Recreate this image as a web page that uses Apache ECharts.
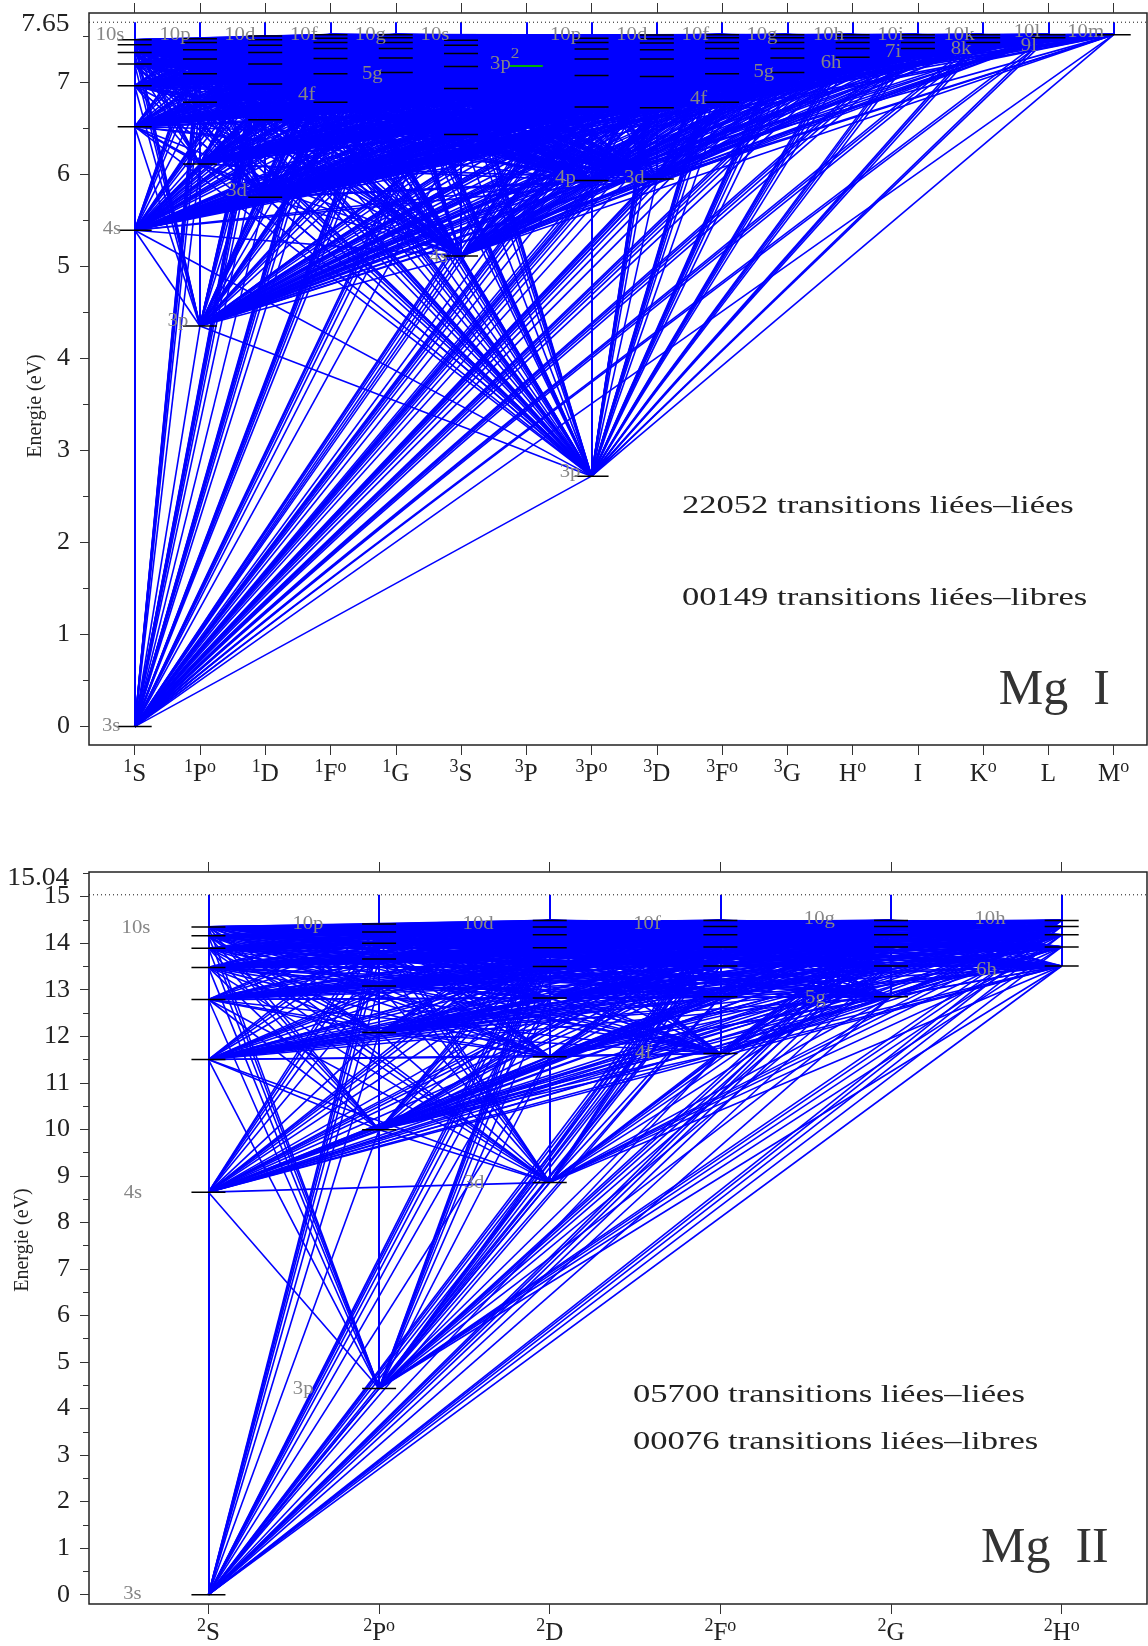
<!DOCTYPE html>
<html><head><meta charset="utf-8">
<style>html,body{margin:0;padding:0;background:#fff}#c{width:1148px;height:1646px}</style>
<script src="https://cdn.jsdelivr.net/npm/echarts@6/dist/echarts.min.js"></script>
</head><body><div id="c"></div>
<script>
// ---------- Mg I : terms (columns) ----------
const termsI = [['1','S',''],['1','P','o'],['1','D',''],['1','F','o'],['1','G',''],['3','S',''],['3','P',''],['3','P','o'],['3','D',''],['3','F','o'],['3','G',''],['','H','o'],['','I',''],['','K','o'],['','L',''],['','M','o']];
// ---------- Mg I : level energies (eV) per term ----------
const I_1S  = [0, 5.39, 6.515, 6.96, 7.195, 7.32, 7.405, 7.46];
const I_1Po = [4.35, 6.11, 6.78, 7.09, 7.25, 7.35, 7.43, 7.47];
const I_1D  = [5.75, 6.59, 6.98, 7.195, 7.32, 7.40, 7.46, 7.50];
const I_1Fo = [6.78, 7.09, 7.255, 7.365, 7.43, 7.475, 7.515];
const I_1G  = [7.105, 7.26, 7.365, 7.43, 7.48, 7.515];
const I_3S  = [5.11, 6.43, 6.93, 7.17, 7.31, 7.40, 7.455];
const I_3P  = [7.175];
const I_3Po = [2.72, 5.93, 6.73, 7.07, 7.25, 7.36, 7.43, 7.475];
const I_3D  = [5.946, 6.72, 7.06, 7.25, 7.35, 7.425, 7.47, 7.51];
const I_3Fo = [6.78, 7.09, 7.255, 7.365, 7.43, 7.48, 7.515];
const I_3G  = [7.105, 7.26, 7.365, 7.43, 7.48, 7.515];
const I_Ho  = [7.27, 7.365, 7.43, 7.48, 7.515];
const I_I   = [7.365, 7.43, 7.48, 7.515];
const I_Ko  = [7.43, 7.48, 7.515];
const I_L   = [7.48, 7.515];
const I_Mo  = [7.515];
const levelsI = [I_1S,I_1Po,I_1D,I_1Fo,I_1G,I_3S,I_3P,I_3Po,I_3D,I_3Fo,I_3G,I_Ho,I_I,I_Ko,I_L,I_Mo];
const noLinesI = [6];            // column whose level has no bound-bound line (green 3p2)
const limitI = 7.65;
const labelsI = [['10s',-0.378,7.53],['10p',0.617,7.53],['10d',1.61,7.53],['10f',2.59,7.53],['10g',3.61,7.53],['10s',4.60,7.53],['10p',6.6,7.53],['10d',7.616,7.53],['10f',8.59,7.53],['10g',9.61,7.53],['10h',10.63,7.53],['10i',11.58,7.53],['10k',12.63,7.53],['10l',13.67,7.56],['10m',14.57,7.56],
 ['5g',3.64,7.11],['4f',2.635,6.88],['3d',1.56,5.835],['4s',-0.348,5.42],['4s',4.655,5.12],['3p',0.663,4.425],['4p',6.6,5.98],['3d',7.655,5.98],['4f',8.64,6.83],['5g',9.64,7.13],['6h',10.67,7.23],['7i',11.62,7.34],['8k',12.66,7.38],['9l',13.7,7.41],['3p',6.67,2.78],['3s',-0.36,0.02]];
const notesI = [['22052 transitions liées–liées',8.385,2.418],['00149 transitions liées–libres',8.385,1.42]];
const titleI = ['Mg  I',13.24,0.42];
const limitLabelI = ['7.65',-0.999,7.655];
const configLabelI = ['3p','2',5.67,7.24];

// ---------- Mg II ----------
const termsII = [['2','S',''],['2','P','o'],['2','D',''],['2','F','o'],['2','G',''],['2','H','o']];
const II_2S  = [0, 8.65, 11.5, 12.79, 13.48, 13.89, 14.16, 14.35];
const II_2Po = [4.43, 9.99, 12.08, 13.08, 13.66, 14.0, 14.24, 14.41];
const II_2D  = [8.86, 11.56, 12.82, 13.5, 13.90, 14.18, 14.35, 14.49];
const II_2Fo = [11.63, 12.85, 13.51, 13.92, 14.18, 14.36, 14.49];
const II_2G  = [12.85, 13.51, 13.92, 14.18, 14.36, 14.49];
const II_2Ho = [13.51, 13.92, 14.18, 14.36, 14.49];
const levelsII = [II_2S,II_2Po,II_2D,II_2Fo,II_2G,II_2Ho];
const limitII = 15.04;
const labelsII = [['10s',-0.425,14.36],['10p',0.583,14.46],['10d',1.58,14.46],['10f',2.57,14.46],['10g',3.58,14.56],['10h',4.58,14.56],['6h',4.56,13.46],['5g',3.557,12.85],['4f',2.55,11.67],['3d',1.556,8.88],['4s',-0.443,8.68],['3p',0.555,4.46],['3s',-0.446,0.06]];
const notesII = [['05700 transitions liées–liées',2.488,4.33],['00076 transitions liées–libres',2.488,3.33]];
const titleII = ['Mg  II',4.527,1.04];
const limitLabelII = ['15.04',-0.815,15.43];

// ---------- Tick values ----------
const yMajorI = [0,1,2,3,4,5,6,7];
const yMinorI = [0.5,1.5,2.5,3.5,4.5,5.5,6.5,7.5];
const yMajorII = [0,1,2,3,4,5,6,7,8,9,10,11,12,13,14,15];
const yMinorII = [0.5,1.5,2.5,3.5,4.5,5.5,6.5,7.5,8.5,9.5,10.5,11.5,12.5,13.5,14.5,15.5];
const colTicksI = termsI.map((_,i)=>i);
const colTicksII = termsII.map((_,i)=>i);

const BLUE='#0000ff', GREY='#868686', SERIF='"Liberation Serif", "DejaVu Serif", serif';

function transitions(levels, skip){
  const out=[];
  levels.forEach((a,i)=>{ if(skip.includes(i))return;
    levels.forEach((b,j)=>{ if(j<=i||skip.includes(j))return;
      a.forEach(u=>b.forEach(v=>out.push({coords:[[i,u],[j,v]]})));
    });
  });
  return out;
}
function limitBars(levels, limit){
  return levels.map((a,i)=>({coords:[[i,a[0]],[i,limit]]}));
}
function levelPoints(levels, skip){
  const out=[]; levels.forEach((a,i)=>{ if(skip.includes(i))return; a.forEach(e=>out.push([i,e])); }); return out;
}
function textSeries(g, items, style){
  return {type:'custom',coordinateSystem:'cartesian2d',xAxisIndex:g*2,yAxisIndex:g*2,silent:true,z:20,clip:false,
    data:items.map(d=>[d[1],d[2]]),
    renderItem:(p,api)=>{
      const c=api.coord([api.value(0),api.value(1)]);
      return {type:'text',x:c[0],y:c[1]+(style.dy||0),scaleX:style.sx||1,z2:20,
        style:{text:items[p.dataIndex][0],fill:style.fill,font:style.size+'px '+SERIF,align:style.align||'center',verticalAlign:'middle'}};
    }};
}
function panel(g, o){
  const xi=g*2, yi=g*2;
  const richLabel={s:{fontFamily:SERIF,fontSize:18,color:'#222',verticalAlign:'top',lineHeight:18},
                   m:{fontFamily:SERIF,fontSize:25,color:'#222',verticalAlign:'bottom',lineHeight:29}};
  const terms=o.terms;
  const axes={
    grid:{left:89,right:1,top:o.top,height:o.h,show:true,borderColor:'#222',borderWidth:1.5,backgroundColor:'#fff',outerBoundsMode:'none'},
    x:[{type:'value',gridIndex:g,position:'bottom',min:-0.7,max:o.xmax,splitLine:{show:false},axisLine:{show:false,onZero:false},
        axisTick:{show:true,length:10,lineStyle:{color:'#333',width:1},customValues:o.cols},
        axisLabel:{show:true,customValues:o.cols,margin:13,hideOverlap:false,
          formatter:v=>{const t=terms[Math.round(v)];return (t[0]?'{s|'+t[0]+'}':'')+'{m|'+t[1]+'}'+(t[2]?'{s|'+t[2]+'}':'');},rich:richLabel}},
       {type:'value',gridIndex:g,position:'top',min:-0.7,max:o.xmax,splitLine:{show:false},axisLine:{show:false,onZero:false},
        axisTick:{show:true,length:10,lineStyle:{color:'#333',width:1},customValues:o.cols},axisLabel:{show:false}}],
    y:[{type:'value',gridIndex:g,position:'left',min:-0.2,max:o.ymax,splitLine:{show:false},axisLine:{show:false,onZero:false},
        name:'Energie (eV)',nameLocation:'middle',nameGap:o.nameGap,nameRotate:90,
        nameTextStyle:{fontFamily:SERIF,fontSize:20,color:'#222',padding:o.namePad},
        axisTick:{show:true,length:9,lineStyle:{color:'#333',width:1},customValues:o.major},
        axisLabel:{show:true,customValues:o.major,margin:19,fontFamily:SERIF,fontSize:26,color:'#222',padding:[4,0,0,0],formatter:v=>String(v)}},
       {type:'value',gridIndex:g,position:'left',min:-0.2,max:o.ymax,splitLine:{show:false},axisLine:{show:false,onZero:false},
        axisTick:{show:true,length:6,lineStyle:{color:'#333',width:1},customValues:o.minor},axisLabel:{show:false}}]
  };
  const series=[
    {type:'lines',coordinateSystem:'cartesian2d',xAxisIndex:xi,yAxisIndex:yi,silent:true,large:false,progressive:0,z:2,
     lineStyle:{color:BLUE,width:1.6,opacity:1},data:transitions(o.levels,o.skip)},
    {type:'lines',coordinateSystem:'cartesian2d',xAxisIndex:xi,yAxisIndex:yi,silent:true,large:false,progressive:0,z:3,
     lineStyle:{color:BLUE,width:2,opacity:1},data:limitBars(o.levels,o.limit)},
    {type:'line',xAxisIndex:xi,yAxisIndex:yi,silent:true,z:4,symbol:'none',
     lineStyle:{color:'#111',width:1,type:[1,3]},data:[[-0.7,o.limit],[o.xmax,o.limit]]},
    {type:'scatter',xAxisIndex:xi,yAxisIndex:yi,silent:true,z:6,symbol:'rect',symbolSize:[34,1.5],
     itemStyle:{color:'#000',opacity:1},data:levelPoints(o.levels,o.skip)},
    textSeries(g,o.labels,{fill:GREY,size:18,sx:1.15,dy:2}),
    textSeries(g,o.notes,{fill:'#222',size:26,sx:1.33,align:'left',dy:2}),
    textSeries(g,[o.title],{fill:'#333',size:50,align:'left',dy:3}),
    textSeries(g,[o.limitLabel],{fill:'#222',size:26,sx:1.06,align:'right',dy:2})
  ];
  return {axes,series};
}
const p1=panel(0,{terms:termsI,cols:colTicksI,levels:levelsI,skip:noLinesI,limit:limitI,labels:labelsI,notes:notesI,title:titleI,limitLabel:limitLabelI,
  top:13,h:732,xmax:15.51,ymax:7.75,major:yMajorI,minor:yMinorI,nameGap:38,namePad:[0,54,0,0]});
const p2=panel(1,{terms:termsII,cols:colTicksII,levels:levelsII,skip:[],limit:limitII,labels:labelsII,notes:notesII,title:titleII,limitLabel:limitLabelII,
  top:872,h:732,xmax:5.5,ymax:15.53,major:yMajorII,minor:yMinorII,nameGap:51,namePad:[0,4,0,0]});

// green 3p2 level and its label
const extra=[
 {type:'scatter',xAxisIndex:0,yAxisIndex:0,silent:true,z:7,symbol:'rect',symbolSize:[33,2],itemStyle:{color:'#00b000',opacity:1},data:[[6,I_3P[0]]]},
 {type:'custom',coordinateSystem:'cartesian2d',xAxisIndex:0,yAxisIndex:0,silent:true,z:20,clip:false,
  data:[[configLabelI[2],configLabelI[3]]],
  renderItem:(p,api)=>{const c=api.coord([api.value(0),api.value(1)]);
    return {type:'text',x:c[0],y:c[1],scaleX:1.15,z2:20,style:{text:'{m|'+configLabelI[0]+'}{s|'+configLabelI[1]+'}',align:'center',verticalAlign:'middle',
      rich:{m:{fontFamily:SERIF,fontSize:18,fill:GREY,color:GREY,verticalAlign:'bottom',lineHeight:26},s:{fontFamily:SERIF,fontSize:15,fill:GREY,color:GREY,verticalAlign:'top',lineHeight:15}}}};}}
];

const chart=echarts.init(document.getElementById('c'),null,{renderer:'canvas',width:1148,height:1646});
chart.setOption({animation:false,backgroundColor:'#fff',
  grid:[p1.axes.grid,p2.axes.grid],
  xAxis:[...p1.axes.x,...p2.axes.x],
  yAxis:[...p1.axes.y,...p2.axes.y],
  series:[...p1.series,...p2.series,...extra]});
</script></body></html>
